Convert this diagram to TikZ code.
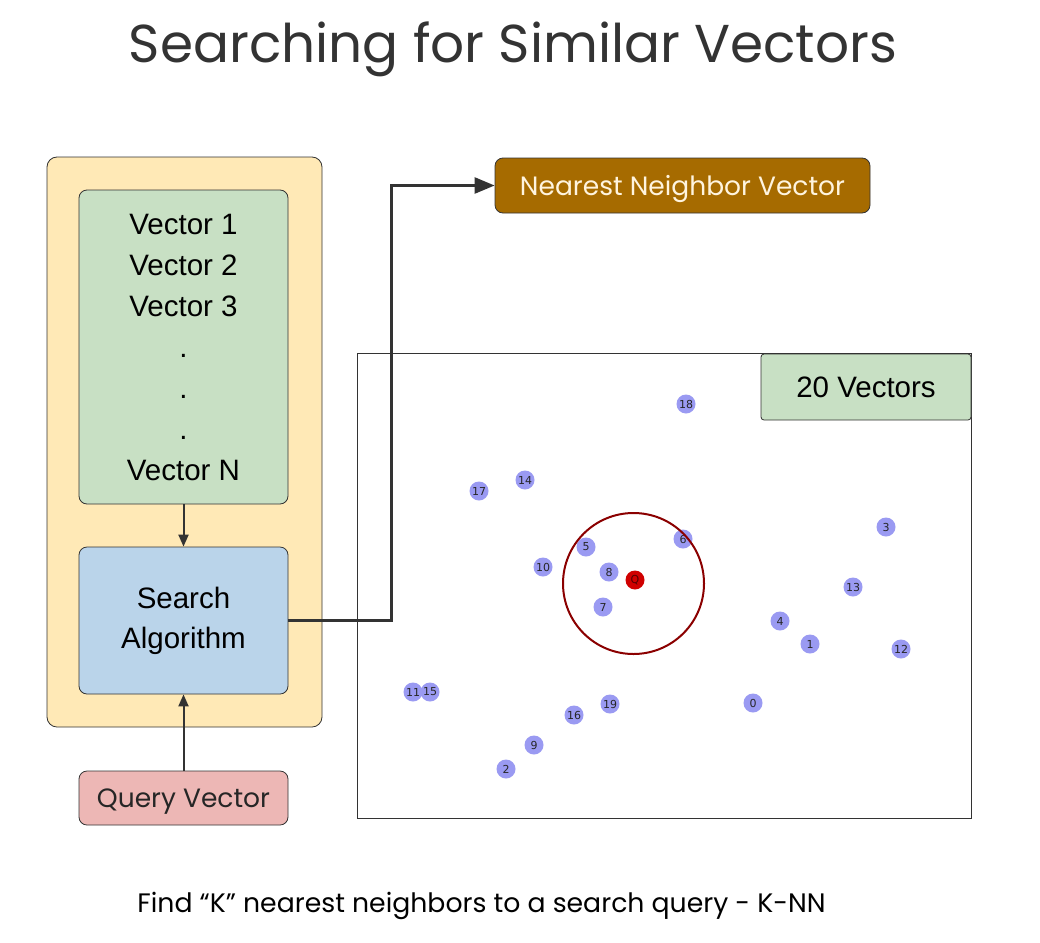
\documentclass[tikz,border=0pt]{standalone}
\usepackage{fontspec}
\setmainfont{Liberation Sans}
\newfontfamily\pop{Poppins}
\newfontfamily\dvs{DejaVu Sans}
\usetikzlibrary{arrows.meta}
\definecolor{ybg}{HTML}{FFE9B6}
\definecolor{gbg}{HTML}{C8E0C4}
\definecolor{bbg}{HTML}{BAD4EA}
\definecolor{rbg}{HTML}{EDB7B5}
\definecolor{brn}{HTML}{A66B00}
\definecolor{cream}{HTML}{FFF4DE}
\definecolor{edge}{HTML}{333333}
\definecolor{ptc}{HTML}{9A9AF2}
\definecolor{qred}{HTML}{D00000}
\definecolor{ringc}{HTML}{8B0000}
\tikzset{
  box/.style={draw=edge, line width=0.8pt, rounded corners=8pt, inner sep=0pt, align=center},
  conn/.style={draw=edge, line width=2pt, -{Triangle[length=12pt,width=10pt]}},
  bigconn/.style={draw=edge, line width=2.6pt, -{Triangle[length=20pt,width=16pt]}},
  pt/.style={circle, fill=ptc, minimum size=19pt, inner sep=0pt, font=\dvs\fontsize{11}{11}\selectfont, text=black!85},
}
\begin{document}
\begin{tikzpicture}[x=1pt,y=-1pt]
\useasboundingbox[fill=white] (0,0) rectangle (1040,942);
% title
\node[font=\pop\fontsize{53.3}{53.3}\selectfont, text=edge] (title) at (513,49) {Searching for Similar Vectors};
% left container
\node[box, fill=ybg, rounded corners=10pt, minimum width=275pt, minimum height=570pt] (outer) at (184.5,442) {};
\node[box, fill=gbg, minimum width=209pt, minimum height=314pt, font=\fontsize{29.5}{41}\selectfont] (vecs) at (183.5,347) {Vector 1\\Vector 2\\Vector 3\\.\\.\\.\\Vector N};
\node[box, fill=bbg, minimum width=209pt, minimum height=147pt, font=\fontsize{29.5}{40}\selectfont] (search) at (183.5,620.5) {Search\\Algorithm};
\node[box, fill=rbg, minimum width=209pt, minimum height=54pt, font=\pop\fontsize{26.5}{26.5}\selectfont, text=black!85] (query) at (183.5,798) {\raisebox{-3.5pt}[\height][\depth]{Query Vector}};
\node[box, fill=brn, minimum width=375pt, minimum height=55pt, font=\pop\fontsize{26.5}{26.5}\selectfont, text=cream] (nn) at (682.5,185.5) {\raisebox{-3pt}[\height][\depth]{Nearest Neighbor Vector}};
% connectors
\draw[conn] (vecs.south) -- (search.north);
\draw[conn] (query.north) -- (search.south);
\draw[bigconn] (search.east) -- ++(103,0) |- (nn.west);
% scatter frame
\node[draw=edge, line width=1pt, minimum width=614pt, minimum height=465pt, inner sep=0pt] (frame) at (664,585.5) {};
\node[box, fill=gbg, rounded corners=3pt, minimum width=210pt, minimum height=66pt, font=\fontsize{29.5}{29.5}\selectfont] (v20) at (866,387) {20 Vectors};
% points
\foreach \px/\py/\lab in {686/404/18, 479/491/17, 525/480/14, 586/547/5, 543/567/10, 609/572/8, 603/607/7, 683/539/6, 886/527/3, 853/587/13, 780/621/4, 810/644/1, 901/649/12, 413/692/11, 430/692/15, 574/715/16, 610/704/19, 753/703/0, 534/745/9, 506/769/2}
  \node[pt] (p\lab) at (\px,\py) {\lab};
\node[pt, fill=qred, text=ringc!60!black] (q) at (635,580) {Q};
\node[circle, draw=ringc, line width=2pt, minimum size=141pt, inner sep=0pt] (ring) at (633.5,583.5) {};
% bottom caption
\node[font=\pop\fontsize{26.7}{26.7}\selectfont, text=black] (cap) at (481.5,906) {Find “K” nearest neighbors to a search query - K-NN};
\end{tikzpicture}
\end{document}
